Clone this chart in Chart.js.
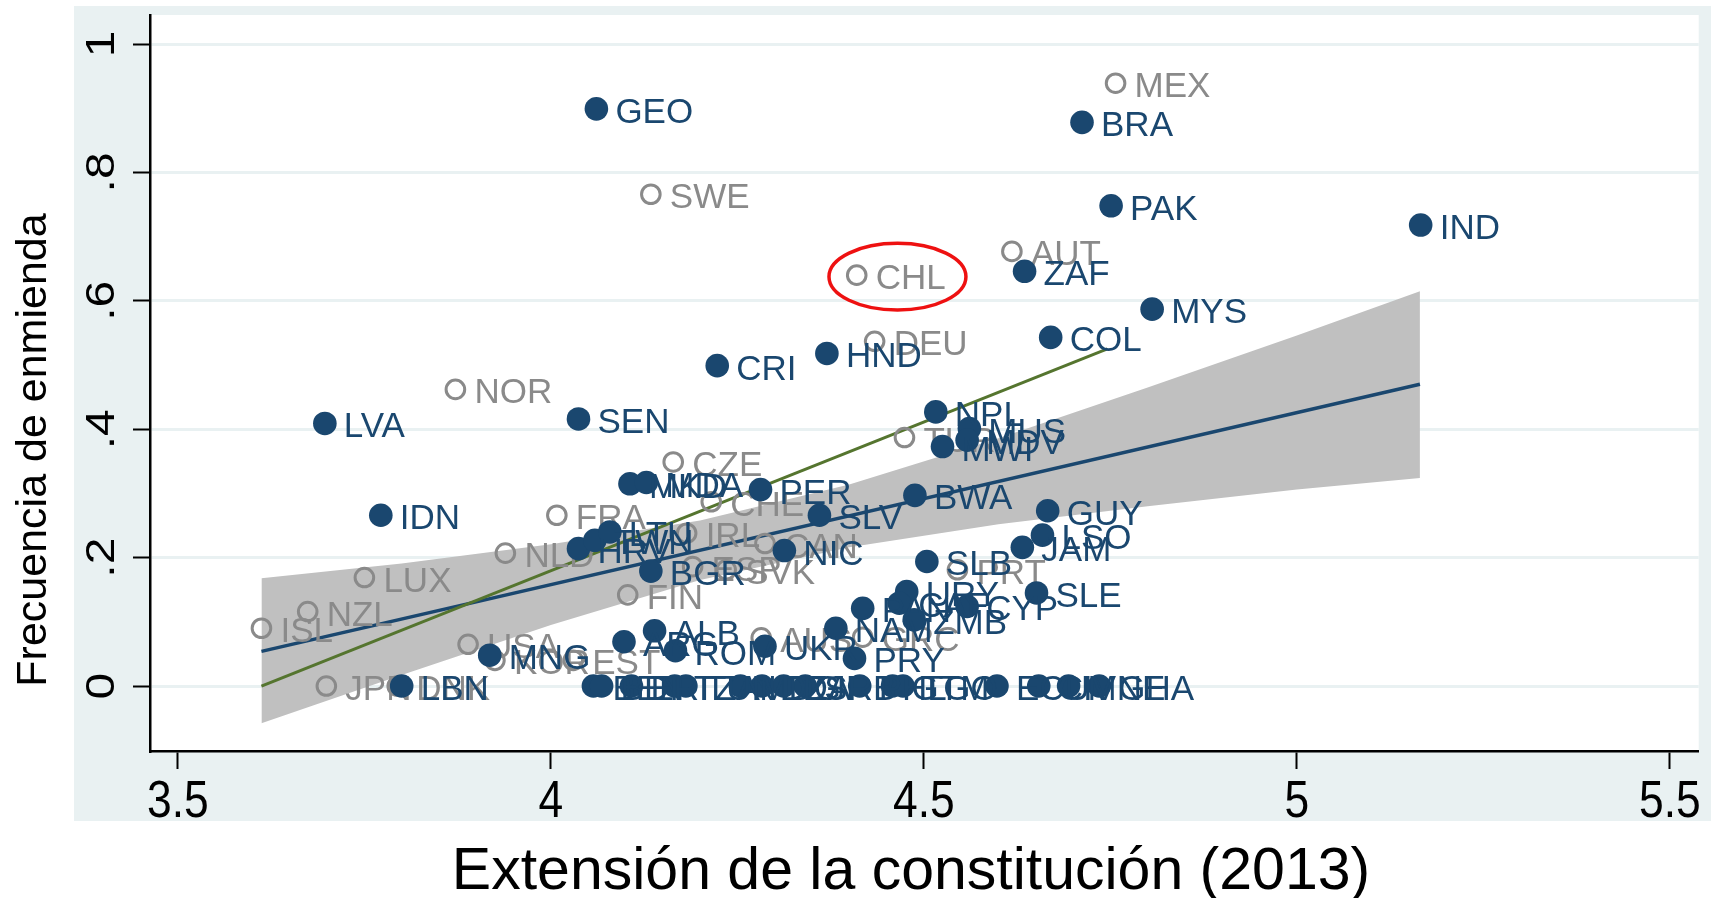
<!DOCTYPE html>
<html>
<head>
<meta charset="utf-8">
<script src="https://cdn.jsdelivr.net/npm/chart.js@4.4.0/dist/chart.umd.min.js"></script>
<style>
html, body { margin: 0; padding: 0; background: #fff; }
</style>
</head>
<body>
<canvas id="chart" width="1711" height="898"></canvas>
<script>
// filled markers (non-OECD)
const blueCodes = ['GEO','BRA','PAK','IND','ZAF','MYS','COL','CRI','HND','LVA','SEN','NPL','MUS','MDV','MWI',
    'MKD','MDA','PER','SLV','BWA','IDN','GUY','LSO','JAM','HRV','TWN','LTU','NIC','BGR','SLB','SLE','URY',
    'CAF','PAN','CYP','ZMB','NAM','PRY','UKR','ROM','ARG','ALB','MNG','LBN',
    'BEN','BDI','ERI','TZA','TUN','MDG','DZA','DJI','SRB','PHL','GTM','TGO','ECU','CIV','MNE','GHA'];
const blueX = [4.061, 4.712, 4.751, 5.166, 4.635, 4.806, 4.670, 4.223, 4.370, 3.697, 4.037, 4.516, 4.561, 4.558, 4.525,
    4.106, 4.128, 4.281, 4.360, 4.488, 3.772, 4.666, 4.659, 4.632, 4.037, 4.059, 4.079, 4.313, 4.134, 4.504, 4.651, 4.477,
    4.467, 4.418, 4.558, 4.487, 4.382, 4.407, 4.287, 4.167, 4.098, 4.139, 3.918, 3.800,
    4.057, 4.068, 4.108, 4.166, 4.181, 4.254, 4.283, 4.312, 4.341, 4.414, 4.458, 4.472, 4.598, 4.654, 4.694, 4.735];
const blueY = [0.899, 0.878, 0.748, 0.718, 0.646, 0.587, 0.543, 0.499, 0.518, 0.409, 0.416, 0.427, 0.401, 0.383, 0.373,
    0.315, 0.317, 0.306, 0.266, 0.297, 0.266, 0.273, 0.235, 0.216, 0.214, 0.227, 0.240, 0.211, 0.179, 0.194, 0.145, 0.147,
    0.129, 0.121, 0.124, 0.103, 0.090, 0.043, 0.062, 0.055, 0.069, 0.086, 0.048, 0,
    0, 0, 0, 0, 0, 0, 0, 0, 0, 0, 0, 0, 0, 0, 0, 0];

// hollow markers (OECD)
const grayCodes = ['MEX','SWE','AUT','CHL','DEU','NOR','TUR','CZE','CHE','FRA','IRL','CAN','NLD','ESP','SVK','PRT',
    'LUX','FIN','NZL','ISL','USA','KOR','EST','AUS','GRC','JPN','DNK'];
const grayX = [4.757, 4.134, 4.618, 4.410, 4.434, 3.872, 4.474, 4.164, 4.215, 4.008, 4.182, 4.287, 3.939, 4.190, 4.235, 4.545,
    3.750, 4.103, 3.674, 3.612, 3.889, 3.925, 4.030, 4.282, 4.418, 3.699, 3.794];
const grayY = [0.939, 0.766, 0.677, 0.640, 0.537, 0.462, 0.387, 0.349, 0.287, 0.266, 0.238, 0.222, 0.207, 0.186, 0.181, 0.181,
    0.169, 0.142, 0.116, 0.090, 0.065, 0.040, 0.040, 0.075, 0.076, 0, 0];

// linear fit with 95% CI (all countries)
const bandX = [3.612, 3.8, 4.0, 4.2, 4.4, 4.6, 4.8, 5.0, 5.165];
const bandUpper = [0.168, 0.191, 0.221, 0.258, 0.314, 0.386, 0.465, 0.546, 0.615];
const bandLower = [-0.058, 0.017, 0.095, 0.165, 0.216, 0.252, 0.280, 0.306, 0.324];
const fitAllX = [3.612, 5.165];
const fitAllY = [0.054, 0.470];
// second fit line (green)
const fitGreenX = [3.612, 4.746];
const fitGreenY = [0.0, 0.525];

const xTicks = [3.5, 4, 4.5, 5, 5.5];
const xTickLabels = ['3.5', '4', '4.5', '5', '5.5'];
const yTicks = [0, 0.2, 0.4, 0.6, 0.8, 1];
const yTickLabels = ['0', '.2', '.4', '.6', '.8', '1'];

const xTitle = 'Extensión de la constitución (2013)';
const yTitle = 'Frecuencia de enmienda';

// red ellipse round Chile
const highlight = { x: 4.4646, y: 0.6376, rx: 0.0918, ry: 0.0519 };

const NAVY = '#1a476f';
const GRAY = '#8a8a8a';
const BG = '#e9f1f2';
const SANS = "'Liberation Sans', Arial, sans-serif";

const toPoints = (xs, ys) => xs.map((x, i) => ({ x: x, y: ys[i] }));

const backgroundPlugin = {
    id: 'backgroundPlugin',
    beforeDraw(chart) {
        const ctx = chart.ctx;
        const area = chart.chartArea;
        ctx.save();
        ctx.fillStyle = '#ffffff';
        ctx.fillRect(0, 0, chart.width, chart.height);
        ctx.fillStyle = BG;
        ctx.fillRect(74, 6, chart.width - 74, 815);
        ctx.fillStyle = '#ffffff';
        ctx.fillRect(area.left, area.top, area.right - area.left, area.bottom - area.top);
        ctx.restore();
    }
};

const labelPlugin = {
    id: 'labelPlugin',
    afterDatasetDraw(chart, args) {
        const ds = chart.data.datasets[args.index];
        if (!ds.codes) return;
        const ctx = chart.ctx;
        ctx.save();
        ctx.font = '35px ' + SANS;
        ctx.fillStyle = ds.labelColor;
        ctx.textAlign = 'left';
        ctx.textBaseline = 'alphabetic';
        args.meta.data.forEach((pt, i) => {
            ctx.fillText(ds.codes[i], pt.x + 19, pt.y + 14);
        });
        ctx.restore();
    }
};

const annotatePlugin = {
    id: 'annotatePlugin',
    afterDraw(chart) {
        const ctx = chart.ctx;
        const xs = chart.scales.x;
        const ys = chart.scales.y;
        ctx.save();

        // ellipse
        const cx = xs.getPixelForValue(highlight.x);
        const cy = ys.getPixelForValue(highlight.y);
        const rx = xs.getPixelForValue(highlight.x + highlight.rx) - cx;
        const ry = cy - ys.getPixelForValue(highlight.y + highlight.ry);
        ctx.strokeStyle = '#ee1111';
        ctx.lineWidth = 3.5;
        ctx.beginPath();
        ctx.ellipse(cx, cy, rx, ry, 0, 0, Math.PI * 2);
        ctx.stroke();

        ctx.fillStyle = '#000';
        ctx.textAlign = 'center';
        ctx.textBaseline = 'alphabetic';

        // y tick labels, rotated and a little squeezed
        ctx.font = '48px ' + SANS;
        yTicks.forEach((v, i) => {
            ctx.save();
            ctx.translate(114, ys.getPixelForValue(v));
            ctx.scale(0.84, 1);
            ctx.rotate(-Math.PI / 2);
            ctx.fillText(yTickLabels[i], 0, 0);
            ctx.restore();
        });

        // x tick labels, narrow
        ctx.font = '51px ' + SANS;
        xTicks.forEach((v, i) => {
            ctx.save();
            ctx.translate(xs.getPixelForValue(v), 817);
            ctx.scale(0.87, 1);
            ctx.fillText(xTickLabels[i], 0, 0);
            ctx.restore();
        });

        // y title
        ctx.font = '43px ' + SANS;
        ctx.save();
        ctx.translate(46, 450);
        ctx.rotate(-Math.PI / 2);
        ctx.fillText(yTitle, 0, 0);
        ctx.restore();

        // x title
        ctx.font = '59px ' + SANS;
        ctx.fillText(xTitle, 911, 889);
        ctx.restore();
    }
};

new Chart(document.getElementById('chart'), {
    type: 'scatter',
    data: {
        datasets: [
            {
                label: 'OECD',
                data: toPoints(grayX, grayY),
                codes: grayCodes,
                labelColor: GRAY,
                pointRadius: 9.3,
                pointBorderWidth: 3,
                pointBorderColor: GRAY,
                pointBackgroundColor: 'rgba(0,0,0,0)',
                order: 2
            },
            {
                label: 'Resto',
                data: toPoints(blueX, blueY),
                codes: blueCodes,
                labelColor: NAVY,
                pointRadius: 11.8,
                pointBorderWidth: 0,
                pointBackgroundColor: NAVY,
                order: 1
            },
            {
                label: 'IC superior',
                data: toPoints(bandX, bandUpper),
                showLine: true,
                borderWidth: 0,
                pointRadius: 0,
                backgroundColor: '#c0c0c0',
                fill: '+1',
                order: 6
            },
            {
                label: 'IC inferior',
                data: toPoints(bandX, bandLower),
                showLine: true,
                borderWidth: 0,
                pointRadius: 0,
                fill: false,
                order: 7
            },
            {
                label: 'Ajuste',
                data: toPoints(fitAllX, fitAllY),
                showLine: true,
                borderColor: NAVY,
                borderWidth: 3.5,
                pointRadius: 0,
                fill: false,
                order: 4
            },
            {
                label: 'Ajuste 2',
                data: toPoints(fitGreenX, fitGreenY),
                showLine: true,
                borderColor: '#55752f',
                borderWidth: 3,
                pointRadius: 0,
                fill: false,
                order: 3
            }
        ]
    },
    options: {
        responsive: false,
        devicePixelRatio: 1,
        animation: false,
        events: [],
        layout: { padding: { left: 0, right: 7, top: 15, bottom: 0 } },
        plugins: {
            legend: { display: false },
            tooltip: { enabled: false },
            title: { display: false }
        },
        scales: {
            x: {
                type: 'linear',
                min: 3.4626,
                max: 5.5387,
                afterBuildTicks: scale => { scale.ticks = xTicks.map(v => ({ value: v })); },
                afterFit: scale => { scale.height = 147; },
                border: { display: true, color: '#000', width: 2.5 },
                grid: {
                    drawOnChartArea: false,
                    drawTicks: true,
                    tickLength: 18,
                    tickColor: '#000',
                    tickWidth: 2
                },
                ticks: { display: false }
            },
            y: {
                type: 'linear',
                min: -0.1012,
                max: 1.0452,
                afterBuildTicks: scale => { scale.ticks = yTicks.map(v => ({ value: v })); },
                afterFit: scale => { scale.width = 150; },
                border: { display: true, color: '#000', width: 2.5 },
                grid: {
                    color: BG,
                    lineWidth: 3,
                    drawTicks: true,
                    tickLength: 17,
                    tickColor: '#000',
                    tickWidth: 2
                },
                ticks: { display: false }
            }
        }
    },
    plugins: [backgroundPlugin, labelPlugin, annotatePlugin]
});
</script>
</body>
</html>
